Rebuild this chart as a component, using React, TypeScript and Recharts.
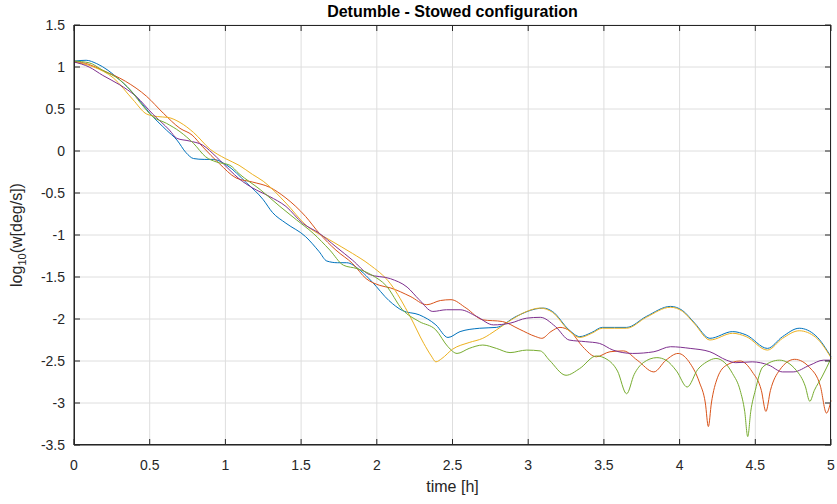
import { LineChart, Line, XAxis, YAxis, CartesianGrid } from "recharts";

const xTicks = [0, 0.5, 1, 1.5, 2, 2.5, 3, 3.5, 4, 4.5, 5];
const yTicks = [-3.5, -3, -2.5, -2, -1.5, -1, -0.5, 0, 0.5, 1, 1.5];

const blueT = [0, 0.08, 0.15, 0.3, 0.41, 0.5, 0.61, 0.68, 0.74, 0.79, 0.86, 0.92, 1.01, 1.14, 1.25, 1.31, 1.4, 1.53, 1.62, 1.67, 1.74, 1.8, 1.89, 1.97, 2.08, 2.17, 2.28, 2.39, 2.47, 2.55, 2.68, 2.79, 2.92, 3.05, 3.1, 3.16, 3.27, 3.34, 3.42, 3.49, 3.57, 3.65, 3.78, 3.94, 4.02, 4.1, 4.2, 4.35, 4.44, 4.58, 4.68, 4.79, 4.9, 5.0];
const blueV = [1.07, 1.08, 1.04, 0.85, 0.65, 0.45, 0.25, 0.13, -0.02, -0.09, -0.1, -0.1, -0.17, -0.38, -0.58, -0.73, -0.86, -1.02, -1.2, -1.31, -1.33, -1.33, -1.42, -1.56, -1.78, -1.9, -1.95, -2.07, -2.22, -2.15, -2.11, -2.1, -1.97, -1.88, -1.87, -1.91, -2.13, -2.21, -2.16, -2.1, -2.1, -2.1, -1.97, -1.85, -1.9, -2.05, -2.23, -2.15, -2.19, -2.35, -2.21, -2.11, -2.2, -2.45];

const redT = [0, 0.1, 0.19, 0.34, 0.48, 0.59, 0.7, 0.78, 0.85, 0.96, 1.07, 1.18, 1.29, 1.4, 1.53, 1.62, 1.73, 1.84, 1.93, 2.02, 2.09, 2.22, 2.33, 2.42, 2.49, 2.59, 2.7, 2.83, 2.94, 3.05, 3.09, 3.15, 3.21, 3.28, 3.36, 3.45, 3.54, 3.63, 3.72, 3.83, 3.91, 3.99, 4.07, 4.13, 4.17, 4.19, 4.21, 4.25, 4.31, 4.4, 4.48, 4.54, 4.57, 4.6, 4.66, 4.76, 4.86, 4.93, 4.97, 5.0];
const redV = [1.07, 1.03, 0.96, 0.83, 0.65, 0.45, 0.27, 0.19, 0.05, -0.15, -0.32, -0.37, -0.43, -0.56, -0.78, -0.98, -1.18, -1.34, -1.52, -1.6, -1.63, -1.73, -1.83, -1.78, -1.77, -1.87, -2.01, -2.03, -2.12, -2.21, -2.23, -2.15, -2.1, -2.15, -2.33, -2.45, -2.39, -2.38, -2.49, -2.63, -2.49, -2.41, -2.53, -2.75, -3.0, -3.28, -3.0, -2.7, -2.55, -2.5, -2.63, -2.85, -3.1, -2.85, -2.61, -2.48, -2.58, -2.8, -3.12, -2.97];

const yellowT = [0, 0.13, 0.26, 0.39, 0.48, 0.55, 0.62, 0.7, 0.79, 0.9, 1.0, 1.09, 1.18, 1.25, 1.4, 1.53, 1.69, 1.84, 1.95, 2.09, 2.22, 2.31, 2.36, 2.39, 2.43, 2.5, 2.61, 2.7, 2.79, 2.88, 2.99, 3.08, 3.16, 3.27, 3.34, 3.42, 3.49, 3.57, 3.65, 3.78, 3.94, 4.02, 4.1, 4.2, 4.35, 4.44, 4.58, 4.68, 4.79, 4.9, 5.0];
const yellowV = [1.06, 1.0, 0.87, 0.61, 0.44, 0.41, 0.4, 0.34, 0.22, 0.02, -0.09, -0.17, -0.28, -0.36, -0.62, -0.88, -1.06, -1.22, -1.35, -1.58, -1.97, -2.29, -2.44, -2.51, -2.47, -2.36, -2.28, -2.23, -2.13, -2.02, -1.91, -1.87, -1.92, -2.14, -2.22, -2.17, -2.11, -2.11, -2.11, -1.98, -1.86, -1.91, -2.06, -2.25, -2.17, -2.21, -2.37, -2.23, -2.14, -2.22, -2.46];

const purpleT = [0, 0.1, 0.19, 0.3, 0.41, 0.52, 0.63, 0.68, 0.76, 0.85, 0.94, 1.03, 1.09, 1.18, 1.29, 1.4, 1.51, 1.62, 1.73, 1.84, 1.95, 2.09, 2.2, 2.28, 2.37, 2.46, 2.55, 2.66, 2.77, 2.88, 2.99, 3.08, 3.18, 3.27, 3.38, 3.47, 3.56, 3.69, 3.83, 3.94, 4.07, 4.2, 4.31, 4.37, 4.48, 4.59, 4.68, 4.75, 4.86, 4.95, 5.0];
const purpleV = [1.06, 1.0, 0.9, 0.79, 0.65, 0.44, 0.25, 0.15, 0.12, 0.07, -0.07, -0.23, -0.33, -0.44, -0.54, -0.66, -0.86, -0.98, -1.14, -1.3, -1.47, -1.52, -1.62, -1.77, -1.91, -1.89, -1.89, -1.97, -2.07, -2.05, -1.99, -1.98, -2.09, -2.25, -2.27, -2.29, -2.37, -2.41, -2.39, -2.33, -2.35, -2.39, -2.49, -2.52, -2.51, -2.55, -2.63, -2.63, -2.55, -2.49, -2.49];

const greenT = [0, 0.1, 0.19, 0.3, 0.37, 0.44, 0.52, 0.61, 0.7, 0.79, 0.87, 0.94, 1.03, 1.09, 1.23, 1.36, 1.47, 1.58, 1.69, 1.78, 1.87, 1.97, 2.06, 2.17, 2.28, 2.39, 2.47, 2.53, 2.61, 2.7, 2.79, 2.88, 2.99, 3.08, 3.14, 3.25, 3.34, 3.45, 3.52, 3.59, 3.65, 3.7, 3.76, 3.85, 3.91, 3.98, 4.05, 4.12, 4.18, 4.24, 4.35, 4.4, 4.43, 4.45, 4.47, 4.5, 4.55, 4.66, 4.77, 4.83, 4.86, 4.89, 4.94, 5.0];
const greenV = [1.07, 1.05, 0.96, 0.85, 0.73, 0.57, 0.41, 0.33, 0.23, 0.09, -0.07, -0.13, -0.17, -0.27, -0.46, -0.66, -0.82, -0.98, -1.18, -1.36, -1.4, -1.48, -1.6, -1.89, -2.03, -2.13, -2.33, -2.41, -2.35, -2.31, -2.35, -2.4, -2.37, -2.38, -2.49, -2.67, -2.59, -2.44, -2.48, -2.62, -2.89, -2.66, -2.52, -2.46, -2.49, -2.62, -2.81, -2.6, -2.51, -2.47, -2.65, -2.85, -3.1, -3.4, -3.1, -2.85, -2.57, -2.49, -2.61, -2.8, -2.98, -2.85, -2.69, -2.47];

const AX = "#262626";
const FONT = "'Liberation Sans', Arial, Helvetica, sans-serif";

// plot box (chart 837x504 minus margins / axis sizes)
const BOX_L = 74;
const BOX_T = 25;
const PLOT_W = 837 - BOX_L - 6;
const PLOT_H = 504 - BOX_T - 59;

const toData = (ts: number[], vs: number[]) => ts.map((t, i) => ({ t, v: vs[i] }));

const series = [
  { name: "blue", color: "#0072BD", data: toData(blueT, blueV) },
  { name: "red", color: "#D95319", data: toData(redT, redV) },
  { name: "yellow", color: "#EDB120", data: toData(yellowT, yellowV) },
  { name: "purple", color: "#7E2F8E", data: toData(purpleT, purpleV) },
  { name: "green", color: "#77AC30", data: toData(greenT, greenV) },
];

// ticks point into the box, on both opposite sides like matlab
const BottomTick = (p: any) => (
  <g>
    <line x1={p.x} x2={p.x} y1={p.y} y2={p.y - 6} stroke={AX} />
    <line x1={p.x} x2={p.x} y1={p.y - PLOT_H} y2={p.y - PLOT_H + 6} stroke={AX} />
    <text x={p.x} y={p.y + 25} textAnchor="middle" fontSize={14} fill={AX} fontFamily={FONT}>
      {String(p.payload.value)}
    </text>
  </g>
);

const LeftTick = (p: any) => (
  <g>
    <line x1={p.x} x2={p.x + 6} y1={p.y} y2={p.y} stroke={AX} />
    <line x1={p.x + PLOT_W} x2={p.x + PLOT_W - 6} y1={p.y} y2={p.y} stroke={AX} />
    <text x={p.x - 9} y={p.y + 5} textAnchor="end" fontSize={14} fill={AX} fontFamily={FONT}>
      {String(p.payload.value)}
    </text>
  </g>
);

export default function App() {
  return (
    <div style={{ position: "absolute", left: 0, top: 0, width: 837, height: 504, background: "#fff", fontFamily: FONT }}>
      <LineChart width={837} height={504} margin={{ top: BOX_T, right: 6, bottom: 0, left: 0 }}>
        <CartesianGrid stroke="#dedede" vertical horizontal />
        <XAxis
          dataKey="t"
          type="number"
          domain={[0, 5]}
          ticks={xTicks}
          height={59}
          tickSize={0}
          tickMargin={0}
          tickLine={false}
          tick={BottomTick}
          axisLine={{ stroke: AX }}
          allowDuplicatedCategory={false}
        />
        <YAxis
          type="number"
          domain={[-3.5, 1.5]}
          ticks={yTicks}
          width={BOX_L}
          tickSize={0}
          tickMargin={0}
          tickLine={false}
          tick={LeftTick}
          axisLine={{ stroke: AX }}
        />
        {series.map((s) => (
          <Line
            key={s.name}
            data={s.data}
            dataKey="v"
            type="monotone"
            stroke={s.color}
            strokeWidth={1}
            dot={false}
            isAnimationActive={false}
          />
        ))}
      </LineChart>
      <div
        style={{
          position: "absolute",
          left: BOX_L,
          top: BOX_T,
          width: PLOT_W,
          height: PLOT_H,
          border: `1px solid ${AX}`,
          boxSizing: "border-box",
          pointerEvents: "none",
        }}
      />
      <div style={{ position: "absolute", left: BOX_L, width: PLOT_W, top: 2, lineHeight: "20px", textAlign: "center", fontWeight: "bold", fontSize: 16, color: "#000" }}>
        Detumble - Stowed configuration
      </div>
      <div style={{ position: "absolute", left: BOX_L, width: PLOT_W, top: 477, lineHeight: "20px", textAlign: "center", fontSize: 16, color: AX }}>
        time [h]
      </div>
      <div
        style={{
          position: "absolute",
          left: 18,
          top: 235,
          transform: "translate(-50%, -50%) rotate(-90deg)",
          whiteSpace: "nowrap",
          fontSize: 16,
          color: AX,
        }}
      >
        log<sub style={{ fontSize: 11 }}>10</sub>(w[deg/s])
      </div>
    </div>
  );
}
